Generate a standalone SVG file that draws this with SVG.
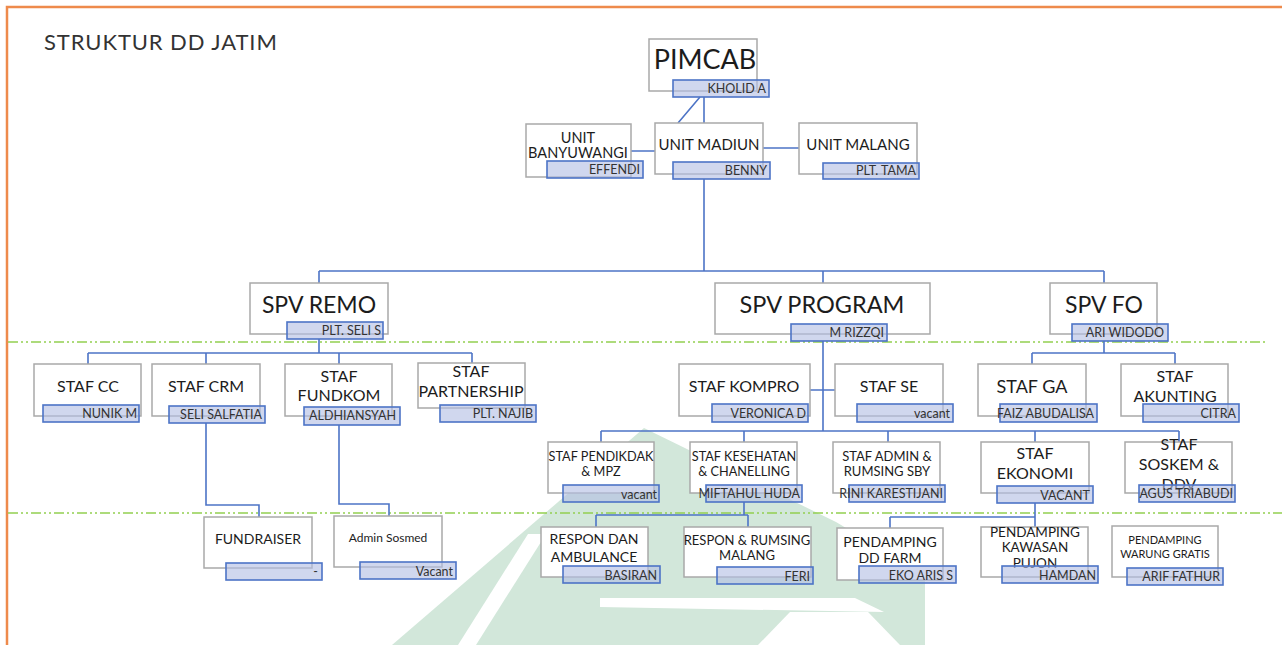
<svg xmlns="http://www.w3.org/2000/svg" width="1282" height="645" viewBox="0 0 1282 645">
<style>
.box{fill:#fff;stroke:#a9a9a9;stroke-width:1.5}
.bar{fill:#b3bee3;fill-opacity:.62;stroke:#4d74c6;stroke-width:1.6}
.t{font-family:Lato,"Liberation Sans",sans-serif;fill:#1c1c1c;text-anchor:middle}
.n{font-family:Lato,"Liberation Sans",sans-serif;fill:#333;text-anchor:end;font-size:12.5px}
.conn{fill:none;stroke:#4d74c6;stroke-width:1.6}
.sep{fill:none;stroke:#92d050;stroke-width:1.5;stroke-dasharray:10 3 2 3 2 3}
</style>
<rect width="1282" height="645" fill="#fff"/>
<g id="watermark">
<polygon points="644,428 836,522 925,575 925,645 392,645" fill="#d2e7da"/>
<polygon points="458,645 476,645 546,534 528,534" fill="#fff"/>
<polygon points="600,598 855,598 884,612 600,607" fill="#fff"/>
<polygon points="758,645 790,612 868,612 900,645" fill="#fff"/>
</g>
<g id="frame" fill="none" stroke="#ee8a4c" stroke-width="2.5">
<path d="M7 645 V7 H1282"/>
</g>
<text x="44" y="50" style="font-family:Lato,'Liberation Sans',sans-serif;font-size:22px;letter-spacing:0.9px;fill:#333">STRUKTUR DD JATIM</text>
<g id="separators">
<path class="sep" d="M8 342 H1265"/>
<path class="sep" d="M8 513 H1282"/>
</g>
<g id="connectors">
<path class="conn" d="M704 97 V123 M700 97 L678 123 M631 151 H655 M763 148 H799 M704 179 V271 M319 271 H1104 M319 271 V283 M823 271 V283 M1104 271 V283"/>
<path class="conn" d="M319 339 V353 M88 353 H472 M88 353 V364 M206 353 V364 M339 353 V364 M472 353 V363"/>
<path class="conn" d="M206 423 V505 H259 V517 M339 425 V504 H389 V516"/>
<path class="conn" d="M823 341 V431 M810 390 H835 M601 431 H1179 M601 431 V442 M744 431 V442 M888 431 V442 M1035 431 V442 M1179 431 V442"/>
<path class="conn" d="M1104 341 V353 M1032 353 H1175 M1032 353 V364 M1175 353 V364"/>
<path class="conn" d="M744 502 V515 M596 515 H748 M596 515 V527 M748 515 V527 M1035 503 V527 M890 517 H1035 M890 517 V528"/>
</g>
<g id="pimcab"><rect class="box" x="649" y="39" width="108" height="52"/><text class="t" x="705" y="69" font-size="27">PIMCAB</text><rect class="bar" x="673" y="80" width="96" height="17"/><text class="n" x="766" y="93">KHOLID A</text></g>
<g id="unit-banyuwangi"><rect class="box" x="526" y="124" width="105" height="53"/><text class="t" x="578" y="143" font-size="14.5">UNIT</text><text class="t" x="578" y="158" font-size="14.5">BANYUWANGI</text><rect class="bar" x="547" y="161" width="96" height="17"/><text class="n" x="640" y="174">EFFENDI</text></g>
<g id="unit-madiun"><rect class="box" x="655" y="123" width="108" height="51"/><text class="t" x="709" y="150" font-size="15">UNIT MADIUN</text><rect class="bar" x="673" y="162" width="97" height="17"/><text class="n" x="767" y="175">BENNY</text></g>
<g id="unit-malang"><rect class="box" x="799" y="123" width="118" height="51"/><text class="t" x="858" y="150" font-size="15">UNIT MALANG</text><rect class="bar" x="823" y="163" width="96" height="16"/><text class="n" x="916" y="175" font-size="13.5">PLT. TAMA</text></g>
<g id="spv-remo"><rect class="box" x="250" y="283" width="138" height="51"/><text class="t" x="319" y="313" font-size="23">SPV REMO</text><rect class="bar" x="287" y="322" width="96" height="17"/><text class="n" x="381" y="335">PLT. SELI S</text></g>
<g id="spv-program"><rect class="box" x="715" y="283" width="215" height="51"/><text class="t" x="822" y="313" font-size="23.5">SPV PROGRAM</text><rect class="bar" x="791" y="324" width="96" height="17"/><text class="n" x="884" y="337" font-size="13">M RIZZQI</text></g>
<g id="spv-fo"><rect class="box" x="1050" y="283" width="107" height="51"/><text class="t" x="1104" y="313" font-size="23">SPV FO</text><rect class="bar" x="1072" y="324" width="96" height="17"/><text class="n" x="1164" y="337" font-size="11.6">ARI WIDODO</text></g>
<g id="staf-cc"><rect class="box" x="34" y="364" width="107" height="52"/><text class="t" x="88" y="392" font-size="16">STAF CC</text><rect class="bar" x="43" y="405" width="96" height="17"/><text class="n" x="137" y="418" font-size="13">NUNIK M</text></g>
<g id="staf-crm"><rect class="box" x="152" y="364" width="108" height="52"/><text class="t" x="206" y="392" font-size="16">STAF CRM</text><rect class="bar" x="169" y="406" width="96" height="17"/><text class="n" x="262" y="419" font-size="13.8">SELI SALFATIA</text></g>
<g id="staf-fundkom"><rect class="box" x="285" y="364" width="107" height="52"/><text class="t" x="339" y="382" font-size="16">STAF</text><text class="t" x="339" y="401" font-size="16">FUNDKOM</text><rect class="bar" x="304" y="407" width="96" height="18"/><text class="n" x="396" y="420" font-size="13.5">ALDHIANSYAH</text></g>
<g id="staf-partnership"><rect class="box" x="418" y="363" width="107" height="45"/><text class="t" x="471" y="377" font-size="16">STAF</text><text class="t" x="471" y="397" font-size="16">PARTNERSHIP</text><rect class="bar" x="440" y="405" width="96" height="17"/><text class="n" x="533" y="418" font-size="13.5">PLT. NAJIB</text></g>
<g id="fundraiser"><rect class="box" x="204" y="517" width="108" height="51"/><text class="t" x="258" y="544" font-size="14">FUNDRAISER</text><rect class="bar" x="226" y="563" width="96" height="17"/><text class="n" x="318" y="576">-</text></g>
<g id="admin-sosmed"><rect class="box" x="334" y="516" width="108" height="51"/><text class="t" x="388" y="542" font-size="12">Admin Sosmed</text><rect class="bar" x="360" y="562" width="96" height="17"/><text class="n" x="453" y="576" font-size="16">Vacant</text></g>
<g id="staf-kompro"><rect class="box" x="679" y="364" width="131" height="52"/><text class="t" x="744" y="392" font-size="16">STAF KOMPRO</text><rect class="bar" x="712" y="404" width="96" height="18"/><text class="n" x="806" y="418" font-size="10.3">VERONICA D</text></g>
<g id="staf-se"><rect class="box" x="835" y="364" width="108" height="52"/><text class="t" x="889" y="392" font-size="16">STAF SE</text><rect class="bar" x="857" y="404" width="96" height="18"/><text class="n" x="950" y="418" font-size="15.5">vacant</text></g>
<g id="staf-ga"><rect class="box" x="978" y="364" width="108" height="52"/><text class="t" x="1032" y="393" font-size="18">STAF GA</text><rect class="bar" x="1000" y="404" width="97" height="18"/><text class="n" x="1094" y="418" font-size="9.5">FAIZ ABUDALISA</text></g>
<g id="staf-akunting"><rect class="box" x="1121" y="364" width="107" height="52"/><text class="t" x="1175" y="382" font-size="16">STAF</text><text class="t" x="1175" y="402" font-size="16">AKUNTING</text><rect class="bar" x="1143" y="404" width="96" height="18"/><text class="n" x="1236" y="418" font-size="13">CITRA</text></g>
<g id="staf-pendikdak"><rect class="box" x="548" y="442" width="106" height="51"/><text class="t" x="601" y="461" font-size="12.7">STAF PENDIKDAK</text><text class="t" x="601" y="476" font-size="12.7">&amp; MPZ</text><rect class="bar" x="563" y="485" width="96" height="17"/><text class="n" x="657" y="499" font-size="15.5">vacant</text></g>
<g id="staf-kesehatan"><rect class="box" x="690" y="442" width="107" height="51"/><text class="t" x="744" y="461" font-size="12.7">STAF KESEHATAN</text><text class="t" x="744" y="476" font-size="12.7">&amp; CHANELLING</text><rect class="bar" x="706" y="485" width="96" height="17"/><text class="n" x="800" y="498" font-size="9.5">MIFTAHUL HUDA</text></g>
<g id="staf-admin"><rect class="box" x="833" y="442" width="107" height="51"/><text class="t" x="887" y="461" font-size="13">STAF ADMIN &amp;</text><text class="t" x="887" y="476" font-size="13">RUMSING SBY</text><rect class="bar" x="849" y="485" width="96" height="17"/><text class="n" x="943" y="498" font-size="9">RINI KARESTIJANI</text></g>
<g id="staf-ekonomi"><rect class="box" x="981" y="442" width="108" height="51"/><text class="t" x="1035" y="459" font-size="16">STAF</text><text class="t" x="1035" y="479" font-size="16">EKONOMI</text><rect class="bar" x="997" y="486" width="96" height="17"/><text class="n" x="1090" y="500" font-size="15">VACANT</text></g>
<g id="staf-soskem"><rect class="box" x="1125" y="442" width="107" height="51"/><text class="t" x="1179" y="450" font-size="16">STAF</text><text class="t" x="1179" y="470" font-size="16">SOSKEM &amp;</text><text class="t" x="1179" y="490" font-size="16">DDV</text><rect class="bar" x="1139" y="485" width="96" height="17"/><text class="n" x="1233" y="498" font-size="10">AGUS TRIABUDI</text></g>
<g id="respon-ambulance"><rect class="box" x="541" y="527" width="107" height="50"/><text class="t" x="594" y="544" font-size="14">RESPON  DAN</text><text class="t" x="594" y="562" font-size="14">AMBULANCE</text><rect class="bar" x="563" y="566" width="97" height="17"/><text class="n" x="657" y="580" font-size="15">BASIRAN</text></g>
<g id="respon-malang"><rect class="box" x="684" y="527" width="127" height="50"/><text class="t" x="747" y="545" font-size="13">RESPON &amp; RUMSING</text><text class="t" x="747" y="560" font-size="13">MALANG</text><rect class="bar" x="717" y="567" width="96" height="17"/><text class="n" x="810" y="581" font-size="15">FERI</text></g>
<g id="pendamping-ddfarm"><rect class="box" x="837" y="528" width="106" height="52"/><text class="t" x="890" y="547" font-size="14">PENDAMPING</text><text class="t" x="890" y="563" font-size="14">DD FARM</text><rect class="bar" x="859" y="566" width="97" height="17"/><text class="n" x="953" y="580" font-size="15">EKO ARIS S</text></g>
<g id="pendamping-pujon"><rect class="box" x="981" y="527" width="107" height="50"/><text class="t" x="1035" y="537" font-size="13.5">PENDAMPING</text><text class="t" x="1035" y="552" font-size="13.5">KAWASAN</text><text class="t" x="1035" y="568" font-size="13.5">PUJON</text><rect class="bar" x="1002" y="566" width="96" height="17"/><text class="n" x="1096" y="580" font-size="15">HAMDAN</text></g>
<g id="pendamping-warung"><rect class="box" x="1112" y="526" width="106" height="51"/><text class="t" x="1165" y="544" font-size="11">PENDAMPING</text><text class="t" x="1165" y="558" font-size="11">WARUNG GRATIS</text><rect class="bar" x="1127" y="568" width="96" height="17"/><text class="n" x="1220" y="581" font-size="11">ARIF FATHUR</text></g>
</svg>
